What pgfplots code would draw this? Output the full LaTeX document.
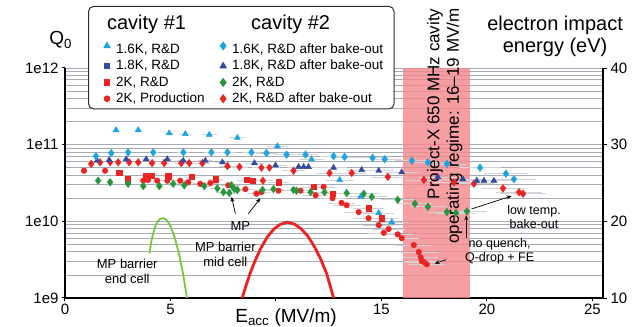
\documentclass[border=0pt]{standalone}
\usepackage{pgfplots}
\pgfplotsset{compat=1.18}
\usepackage{fontspec}
\setmainfont{Liberation Sans}
\usetikzlibrary{arrows.meta}
\definecolor{lb}{RGB}{30,165,225}
\definecolor{db}{RGB}{50,75,160}
\definecolor{rd}{RGB}{235,35,35}
\definecolor{gr}{RGB}{40,150,60}
\definecolor{mpgr}{RGB}{120,200,60}
\definecolor{gridc}{RGB}{165,172,182}
\definecolor{band}{RGB}{242,135,140}
\definecolor{ebar}{RGB}{210,210,215}
\definecolor{legframe}{RGB}{45,45,45}
\newcommand{\es}{\rule{0pt}{11.8pt}}
\newcommand{\fs}{\rule{0pt}{19.5pt}}
\newcommand{\ts}{\rule{0pt}{21pt}}
\begin{document}
\begin{tikzpicture}[x=1pt,y=1pt]
\useasboundingbox (-65,-29) rectangle (576,298);
\begin{axis}[
  at={(0,0)}, anchor=south west,
  scale only axis, width=538pt, height=230pt,
  xmin=0, xmax=25.5, ymode=log, ymin=1e9, ymax=1e12,
  axis x line*=bottom, axis y line*=left,
  axis line style={line width=1.6pt,-},
  xtick={0,5,10,15,20,25}, xticklabels={0,5,,15,20,25},
  ytick={1e9,1e10,1e11,1e12}, yticklabels={1e9,1e10,1e11,1e12},
  minor ytick={2e9,3e9,4e9,5e9,6e9,7e9,8e9,9e9,2e10,3e10,4e10,5e10,6e10,7e10,8e10,9e10,2e11,3e11,4e11,5e11,6e11,7e11,8e11,9e11},
  ymajorgrids, yminorgrids,
  major grid style={gridc, line width=0.8pt},
  minor grid style={gridc, line width=0.8pt},
  minor tick length=0pt,
  tick align=outside, major tick length=3pt,
  tick style={black, line width=1pt},
  tick label style={font=\fontsize{15}{17}\selectfont},
  /pgf/number format/assume math mode=true,
  clip=false,
  legend columns=2,
  legend cell align=left,
  legend style={at={(0.0428,1.2696)}, anchor=north west,
    draw=legframe, fill=white, rounded corners=5pt, line width=1pt,
    inner xsep=10pt, inner ysep=2pt,
    nodes={inner ysep=0pt, inner xsep=1pt, text depth=4.5pt},
    font=\fontsize{13.5}{15}\selectfont,
    /tikz/every odd column/.append style={column sep=5pt},
    /tikz/every even column/.append style={column sep=9pt}},
  error bars/error bar style={ebar, line width=0.6pt},
  error bars/error mark=none,
]
% legend
\addlegendimage{empty legend}\addlegendentry{\hspace*{-9pt}\fontsize{20}{22}\selectfont\ts cavity \#1}
\addlegendimage{empty legend}\addlegendentry{\hspace*{19pt}\fontsize{20}{22}\selectfont\ts cavity \#2}
\addlegendimage{only marks, mark=triangle*, mark size=3.5pt, lb}\addlegendentry{\fs 1.6K, R\&D}
\addlegendimage{only marks, mark=diamond*, mark size=3.8pt, lb}\addlegendentry{\fs 1.6K, R\&D after bake-out}
\addlegendimage{only marks, mark=square*, mark size=2.6pt, db}\addlegendentry{\es 1.8K, R\&D}
\addlegendimage{only marks, mark=triangle*, mark size=3.5pt, db}\addlegendentry{\es 1.8K, R\&D after bake-out}
\addlegendimage{only marks, mark=square*, mark size=2.6pt, rd}\addlegendentry{\es 2K, R\&D}
\addlegendimage{only marks, mark=diamond*, mark size=3.8pt, gr}\addlegendentry{\es 2K, R\&D}
\addlegendimage{only marks, mark=*, mark size=2.8pt, rd}\addlegendentry{\es 2K, Production}
\addlegendimage{only marks, mark=diamond*, mark size=3.8pt, rd}\addlegendentry{\es 2K, R\&D after bake-out}

% operating band
\addplot[fill=band, fill opacity=0.8, draw=none, forget plot] coordinates {(16,1e9) (16,1e12) (19.2,1e12) (19.2,1e9)} -- cycle;

% MP barrier curves
\addplot[mpgr, line width=1.8pt, forget plot] coordinates {
(4.0,3.80e9)(4.1,5.62e9)(4.2,7.24e9)(4.3,8.91e9)(4.4,1.00e10)(4.5,1.07e10)(4.66,1.10e10)(4.8,1.05e10)(5.0,8.71e9)(5.2,6.17e9)(5.4,3.80e9)(5.6,2.04e9)(5.78,1.0e9)};
\addplot[rd, line width=2.8pt, forget plot] coordinates {
(8.4,1.0e9)(8.6,1.51e9)(8.8,2.19e9)(9.0,3.02e9)(9.3,4.57e9)(9.6,6.31e9)(9.9,7.94e9)(10.2,9.12e9)(10.55,9.77e9)(10.9,9.12e9)(11.2,7.94e9)(11.5,6.46e9)(11.8,4.79e9)(12.1,3.31e9)(12.4,2.09e9)(12.73,1.0e9)};

% data
\addplot[only marks, mark=*, mark size=2.8pt, rd, forget plot,
  error bars/.cd, x dir=both, x fixed relative=0.05] coordinates {
(0.90,4.57e10)(1.90,4.57e10)(3.71,3.39e10)(3.94,3.47e10)(4.37,3.39e10)(4.85,3.39e10)(5.46,3.39e10)(5.84,3.24e10)(6.41,3.09e10)(6.89,3.16e10)(7.74,2.95e10)(8.55,2.63e10)(9.07,2.29e10)(9.31,2.40e10)(10.12,2.51e10)(11.16,2.51e10)(11.88,2.19e10)(12.26,2.82e10)(12.68,2.00e10)(13.11,1.74e10)(13.35,1.62e10)(13.92,1.32e10)(14.39,1.10e10)(14.87,8.91e9)(15.11,7.08e9)(15.34,7.94e9)(15.77,6.76e9)(15.96,6.03e9)(16.53,4.90e9)(16.77,3.98e9)(16.86,3.39e9)(16.91,3.02e9)(17.01,2.95e9)(17.15,2.75e9)};
\addplot[only marks, mark=square*, mark size=2.6pt, rd, forget plot,
  error bars/.cd, x dir=both, x fixed relative=0.05] coordinates {
(2.57,4.27e10)(2.99,3.55e10)(3.85,3.89e10)(4.09,3.98e10)(4.89,3.89e10)(5.99,3.80e10)(7.13,3.55e10)(8.60,3.47e10)(8.88,3.39e10)(10.12,3.24e10)(11.78,2.82e10)(12.68,2.29e10)(14.39,1.48e10)(15.01,1.10e10)};
\addplot[only marks, mark=diamond*, mark size=3.8pt, gr, forget plot,
  error bars/.cd, x dir=both, x fixed relative=0.05] coordinates {
(1.57,3.39e10)(2.14,3.24e10)(2.99,3.09e10)(3.71,2.88e10)(4.47,2.88e10)(5.13,3.09e10)(5.65,2.95e10)(6.60,2.88e10)(7.22,2.69e10)(7.51,2.40e10)(7.79,2.34e10)(7.89,2.95e10)(8.03,2.63e10)(8.17,2.57e10)(9.36,2.57e10)(9.88,2.63e10)(10.83,2.57e10)(10.97,2.51e10)(11.64,2.40e10)(12.30,2.40e10)(13.35,2.34e10)(14.16,2.29e10)(14.54,2.09e10)(15.77,1.91e10)(16.58,1.70e10)(17.20,1.55e10)(18.10,1.32e10)(18.53,1.29e10)(19.05,1.35e10)};
\addplot[only marks, mark=diamond*, mark size=3.8pt, rd, forget plot,
  error bars/.cd, x dir=both, x fixed relative=0.05] coordinates {
(1.24,5.62e10)(1.66,5.89e10)(2.14,5.89e10)(2.52,5.89e10)(3.04,5.89e10)(3.47,5.89e10)(4.13,5.75e10)(4.70,5.75e10)(5.51,5.75e10)(5.89,5.75e10)(6.51,5.75e10)(7.70,5.25e10)(8.27,5.13e10)(9.31,5.01e10)(9.38,3.39e10)(9.69,5.01e10)(10.83,4.57e10)(12.54,4.27e10)(13.59,4.27e10)(15.30,3.80e10)(17.01,3.47e10)(18.43,3.24e10)(19.38,3.09e10)(20.76,2.69e10)(21.52,2.40e10)(21.71,2.29e10)};
\addplot[only marks, mark=triangle*, mark size=3.5pt, db, forget plot,
  error bars/.cd, x dir=both, x fixed relative=0.05] coordinates {
(1.52,6.17e10)(2.09,6.31e10)(2.90,6.46e10)(3.85,6.46e10)(4.85,6.46e10)(5.61,6.17e10)(6.65,6.17e10)(7.46,5.89e10)(8.98,5.75e10)(9.98,5.37e10)(11.07,5.13e10)(11.31,5.13e10)(11.54,5.13e10)(12.73,5.01e10)(14.06,4.68e10)(14.87,4.57e10)(15.96,4.37e10)(17.67,3.80e10)(18.86,3.55e10)(19.52,3.39e10)(19.86,3.39e10)(20.33,3.39e10)};
\addplot[only marks, mark=diamond*, mark size=3.8pt, lb, forget plot,
  error bars/.cd, x dir=both, x fixed relative=0.05] coordinates {
(1.47,7.08e10)(2.19,7.76e10)(2.99,7.94e10)(4.18,7.94e10)(5.61,7.94e10)(6.94,7.94e10)(7.70,7.94e10)(8.84,7.94e10)(9.55,7.76e10)(10.50,7.41e10)(11.40,7.41e10)(12.73,7.08e10)(13.25,6.92e10)(14.58,6.76e10)(15.15,6.46e10)(16.44,6.17e10)(17.20,5.89e10)(18.10,5.62e10)(19.67,5.01e10)(20.90,4.17e10)(21.28,3.55e10)};
\addplot[only marks, mark=triangle*, mark size=3.5pt, lb, forget plot,
  error bars/.cd, x dir=both, x fixed relative=0.05] coordinates {
(2.42,1.55e11)(3.47,1.55e11)(4.94,1.41e11)(5.70,1.38e11)(6.84,1.35e11)(8.17,1.23e11)(10.07,9.55e10)(11.69,6.46e10)(13.02,3.47e10)(14.01,2.09e10)(14.87,1.29e10)(15.49,9.77e9)};

% annotations
\node[font=\fontsize{13}{15}\selectfont] at (axis cs:8.31,8.71e9) {MP};
\draw[-{Stealth[length=5pt,width=4pt]}, line width=0.7pt] (axis cs:8.08,1.26e10) -- (axis cs:7.89,2.09e10);
\draw[-{Stealth[length=5pt,width=4pt]}, line width=0.7pt] (axis cs:8.69,1.26e10) -- (axis cs:9.26,2.0e10);
\node[font=\fontsize{13}{14.5}\selectfont, align=center] at (axis cs:7.6,3.72e9) {MP barrier\\mid cell};
\node[font=\fontsize{13}{14.5}\selectfont, align=center] at (axis cs:2.95,2.24e9) {MP barrier\\end cell};
\node[font=\fontsize{12.5}{14}\selectfont, align=center] at (axis cs:22.23,1.15e10) {low temp.\\bake-out};
\draw[-{Stealth[length=5pt,width=4pt]}, line width=0.7pt] (axis cs:19.27,1.45e10) -- (axis cs:21.17,2.14e10);
\node[font=\fontsize{12.5}{14}\selectfont, align=center] at (axis cs:20.6,4.07e9) {no quench,\\Q-drop + FE};
\draw[-{Stealth[length=5pt,width=4pt]}, line width=0.7pt] (axis cs:19.02,6.03e9) -- (axis cs:19.02,1.20e10);
\draw[-{Stealth[length=5pt,width=4pt]}, line width=0.7pt] (axis cs:18.07,3.16e9) -- (axis cs:17.52,2.82e9);
\node[rotate=90, anchor=east, align=right, font=\fontsize{17}{19.5}\selectfont] at (axis description cs:0.706,1.274) {Project-X 650 MHz cavity\\operating regime: 16--19 MV/m};
\node[font=\fontsize{19}{21}\selectfont] at (axis description cs:-0.008,1.1217) {Q\textsubscript{0}};
\node[anchor=base, font=\fontsize{19}{21}\selectfont] at (axis description cs:0.411,-0.108) {E\textsubscript{acc} (MV/m)};
\node[align=center, font=\fontsize{20}{22}\selectfont] at (axis description cs:0.911,1.139) {electron impact\\energy (eV)};
\end{axis}
\begin{axis}[
  at={(0,0)}, anchor=south west,
  scale only axis, width=538pt, height=230pt,
  xmin=0, xmax=25.5, ymin=10, ymax=40,
  axis x line=none, axis y line*=right,
  axis line style={line width=1.6pt,-},
  ytick={10,20,30,40},
  tick align=outside, major tick length=4pt,
  tick style={black, line width=1pt},
  tick label style={font=\fontsize{15}{17}\selectfont},
  /pgf/number format/assume math mode=true,
]
\end{axis}
\end{tikzpicture}
\end{document}
